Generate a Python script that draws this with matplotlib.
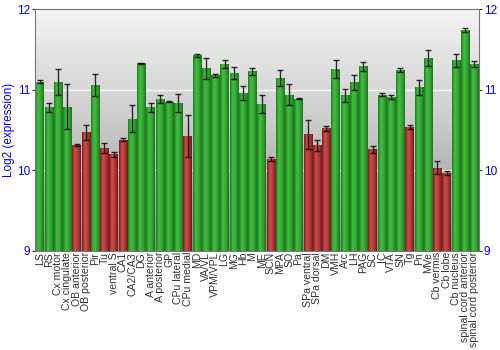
import numpy as np
import matplotlib
matplotlib.use("Agg")
import matplotlib.pyplot as plt
from matplotlib.colors import LinearSegmentedColormap

regions = ["LS", "RS", "Cx motor", "Cx cingulate", "OB anterior", "OB posterior", "Pir", "Tu",
           "ventral S", "CA1", "CA2/CA3", "DG", "A anterior", "A posterior", "GP", "CPu lateral",
           "CPu medial", "MD", "VA/VL", "VPM/VPL", "LG", "MG", "Hb", "M", "ME", "SCN", "MPA", "SO",
           "Pa", "SPa ventral", "SPa dorsal", "DM", "VMH", "Arc", "LH", "PAG", "SC", "IC", "VTA",
           "SN", "Tg", "Pn", "MVe", "Cb vermis", "Cb lobe", "Cb nucleus", "spinal cord anterior",
           "spinal cord posterior"]
values = [11.10, 10.78, 11.10, 10.79, 10.31, 10.47, 11.06, 10.28, 10.20, 10.38, 10.64, 11.33,
          10.78, 10.88, 10.85, 10.84, 10.43, 11.43, 11.27, 11.18, 11.32, 11.21, 10.96, 11.23,
          10.82, 10.14, 11.15, 10.94, 10.89, 10.45, 10.31, 10.52, 11.26, 10.93, 11.09, 11.29,
          10.26, 10.94, 10.91, 11.25, 10.54, 11.03, 11.40, 10.03, 9.96, 11.37, 11.74, 11.32]
errors = [0.02, 0.06, 0.16, 0.28, 0.01, 0.09, 0.14, 0.06, 0.03, 0.02, 0.17, 0.01,
          0.06, 0.05, 0.005, 0.11, 0.26, 0.02, 0.13, 0.02, 0.05, 0.07, 0.09, 0.04,
          0.11, 0.02, 0.10, 0.13, 0.005, 0.18, 0.07, 0.03, 0.11, 0.08, 0.09, 0.06,
          0.04, 0.02, 0.02, 0.025, 0.025, 0.09, 0.10, 0.08, 0.025, 0.08, 0.025, 0.04]
is_low = [False, False, False, False, True, True, False, True, True, True, False, False,
          False, False, False, False, True, False, False, False, False, False, False, False,
          False, True, False, False, False, True, True, True, False, False, False, False,
          True, False, False, False, True, False, False, True, True, False, False, False]
yticks = [9, 10, 11, 12]

plt.rcParams['font.family'] = ['Liberation Sans', 'DejaVu Sans']
fig = plt.figure(figsize=(5, 3.5), dpi=100)
ax = fig.add_axes([0.07, 0.284, 0.888, 0.689])

n = len(regions)
ymin, ymax = 9, 12
ax.set_xlim(-0.5, n - 0.5)
ax.set_ylim(ymin, ymax)

# background vertical gradient
bg = LinearSegmentedColormap.from_list("bg", ["#8c8c8c", "#c8c8c8", "#f4f4f4"])
grad = np.linspace(0, 1, 256).reshape(-1, 1)
ax.imshow(grad, cmap=bg, aspect="auto", origin="lower",
          extent=(-0.5, n - 0.5, ymin, ymax), zorder=0)

for yv in [10, 11]:
    ax.axhline(yv, color="white", lw=1.0, alpha=0.8, zorder=1)

green = LinearSegmentedColormap.from_list("g", ["#1e801e", "#46be46", "#33a833", "#1c741c"])
red = LinearSegmentedColormap.from_list("r", ["#7e1e1e", "#cc5050", "#b43838", "#741a1a"])
hgrad = np.linspace(0, 1, 64).reshape(1, -1)
w = 0.92
for i, (v, low) in enumerate(zip(values, is_low)):
    ax.imshow(hgrad, cmap=red if low else green, aspect="auto",
              extent=(i - w / 2, i + w / 2, ymin, v), zorder=2)

x = np.arange(n)
ax.errorbar(x, values, yerr=errors, fmt="none", ecolor="black", elinewidth=1.0,
            capsize=2.5, capthick=1.0, alpha=0.8, zorder=3)

ax.set_xticks(x)
ax.set_xticklabels(regions, rotation=90, fontsize=7.6, color="#333333")
ax.set_yticks(yticks)
ax.tick_params(axis="y", which="both", left=True, right=True, labelleft=True,
               labelright=True, labelcolor="#0000ff", labelsize=8.5, length=2.5, pad=1,
               color="#333333")
ax.tick_params(axis="x", length=0, pad=1)
ax.set_ylabel("Log2 (expression)", color="#0000ff", fontsize=8.5, labelpad=1)
for s in ax.spines.values():
    s.set_color("#777777")

fig.savefig("out.png", dpi=100)
